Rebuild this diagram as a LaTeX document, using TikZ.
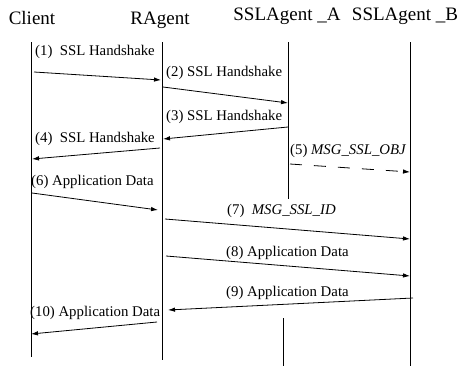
\documentclass[tikz,border=0pt]{standalone}
\usepackage{fontspec}
\setmainfont{Liberation Serif}
\usetikzlibrary{arrows.meta}
\begin{document}
\begin{tikzpicture}[x=1pt,y=-1pt]
\tikzstyle{actor} = [font=\fontsize{19}{22}\selectfont, inner sep=0pt]
\tikzstyle{msg}   = [font=\fontsize{14.8}{17}\selectfont, inner sep=0pt, anchor=west]
\tikzstyle{life}  = [line width=0.8pt]
\tikzstyle{arrow} = [line width=0.8pt, -{Latex[length=7pt,width=4.5pt]}]

\useasboundingbox (0,0) rectangle (466,367);

% actors
\node (client) [actor] at (32,18)  {Client};
\node (ragent) [actor] at (160,20) {RAgent};
\node (sslA)   [actor] at (287,16) {SSLAgent \_A};
\node (sslB)   [actor] at (405,16) {SSLAgent \_B};

% lifelines
\coordinate (clientTop) at (31,42);   \coordinate (clientBot) at (31,357);
\coordinate (ragentTop) at (162,42);  \coordinate (ragentBot) at (162,360);
\coordinate (sslATop)   at (288,42);  \coordinate (sslABot)   at (288,199);
\coordinate (sslATop2)  at (283,318); \coordinate (sslABot2)  at (283,366);
\coordinate (sslBTop)   at (410,42);  \coordinate (sslBBot)   at (410,366);

\draw [life] (clientTop) -- (clientBot);
\draw [life] (ragentTop) -- (ragentBot);
\draw [life] (sslATop)   -- (sslABot);
\draw [life] (sslATop2)  -- (sslABot2);
\draw [life] (sslBTop)   -- (sslBBot);

% message ends
\coordinate (m1s)  at (34,72);   \coordinate (m1e)  at (161,80);
\coordinate (m2s)  at (163,87);  \coordinate (m2e)  at (288,103);
\coordinate (m3s)  at (288,127); \coordinate (m3e)  at (163,139);
\coordinate (m4s)  at (160,148); \coordinate (m4e)  at (32,159);
\coordinate (m5s)  at (290,164); \coordinate (m5e)  at (410,172);
\coordinate (m6s)  at (32,193);  \coordinate (m6e)  at (158,210);
\coordinate (m7s)  at (165,219); \coordinate (m7e)  at (410,239);
\coordinate (m8s)  at (166,256); \coordinate (m8e)  at (410,276);
\coordinate (m9s)  at (413,298); \coordinate (m9e)  at (168,310);
\coordinate (m10s) at (157,322); \coordinate (m10e) at (31,334);

\draw [arrow] (m1s)  -- (m1e);
\draw [arrow] (m2s)  -- (m2e);
\draw [arrow] (m3s)  -- (m3e);
\draw [arrow] (m4s)  -- (m4e);
\draw [arrow, dash pattern=on 12pt off 12pt] (m5s) -- (m5e);
\draw [arrow] (m6s)  -- (m6e);
\draw [arrow] (m7s)  -- (m7e);
\draw [arrow] (m8s)  -- (m8e);
\draw [arrow] (m9s)  -- (m9e);
\draw [arrow] (m10s) -- (m10e);

% labels
\node (l1)  [msg] at (35,52)  {(1)\ \ SSL Handshake};
\node (l2)  [msg] at (166,73) {(2) SSL Handshake};
\node (l3)  [msg] at (166,117) {(3) SSL Handshake};
\node (l4)  [msg] at (35,139) {(4)\ \ SSL Handshake};
\node (l5)  [msg] at (290,151) {(5) \textit{MSG\_SSL\_OBJ}};
\node (l6)  [msg] at (31,182) {(6) Application Data};
\node (l7)  [msg] at (227,211) {(7)\ \ \textit{MSG\_SSL\_ID}};
\node (l8)  [msg] at (226,253) {(8) Application Data};
\node (l9)  [msg] at (226,293) {(9) Application Data};
\node (l10) [msg] at (30,313) {(10) Application Data};
\end{tikzpicture}
\end{document}
